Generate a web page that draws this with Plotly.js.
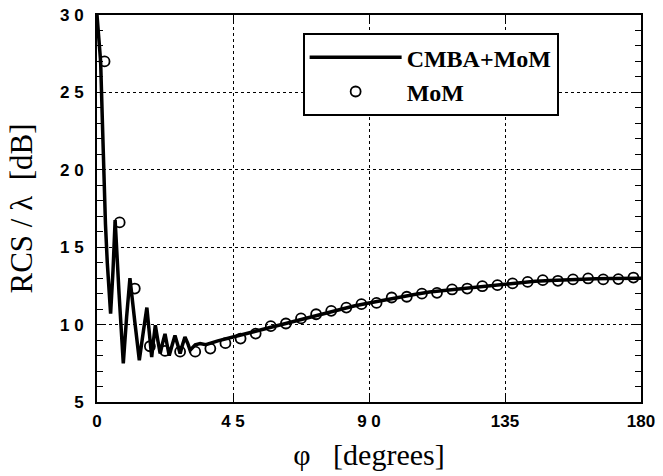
<!DOCTYPE html>
<html>
<head>
<meta charset="utf-8">
<script src="https://cdn.plot.ly/plotly-3.0.1.min.js"></script>
<style>html,body{margin:0;padding:0;background:#fff}#chart{width:663px;height:476px}</style>
</head>
<body>
<div id="chart"></div>
<script>
// CMBA+MoM curve (phi in degrees, RCS/lambda in dB)
var cmbaPhi = [0, 0.4, 1.2, 1.8, 2.3, 2.8, 3.4, 4.0, 4.5, 5.3, 6.0, 7.3, 8.7, 9.8, 10.9, 12.5, 14.0, 15.3, 16.5, 17.3, 18.1, 18.7, 19.3, 20.1, 20.9, 21.7, 22.5, 23.2, 23.9, 24.9, 25.8, 26.7, 27.5, 28.3, 29.1, 30.0, 30.8, 32.5, 34.1, 36, 40, 45, 50, 55, 60, 65, 70, 75, 80, 85, 90, 95, 100, 105, 110, 115, 120, 125, 130, 135, 140, 145, 150, 155, 160, 165, 170, 175, 180];
var cmbaDB = [30, 29, 27, 23, 19, 16.5, 14, 12, 10.7, 13.5, 16.75, 12, 7.5, 10.5, 13.0, 10.2, 7.7, 9.5, 11.1, 9.5, 7.9, 9.0, 9.96, 9.0, 8.13, 8.8, 9.4, 8.7, 8.0, 8.7, 9.3, 8.7, 8.13, 8.7, 9.2, 8.8, 8.35, 8.7, 8.78, 8.7, 8.95, 9.2, 9.45, 9.7, 9.95, 10.25, 10.5, 10.75, 11.0, 11.2, 11.4, 11.6, 11.8, 11.95, 12.1, 12.2, 12.3, 12.45, 12.55, 12.65, 12.72, 12.8, 12.85, 12.9, 12.93, 12.96, 12.98, 13.0, 13.0];

// MoM reference points
var momPhi = [2.5, 7.5, 12.5, 17.5, 22.5, 27.5, 32.5, 37.5, 42.5, 47.5, 52.5, 57.5, 62.5, 67.5, 72.5, 77.5, 82.5, 87.5, 92.5, 97.5, 102.5, 107.5, 112.5, 117.5, 122.5, 127.5, 132.5, 137.5, 142.5, 147.5, 152.5, 157.5, 162.5, 167.5, 172.5, 177.5];
var momDB = [27.0, 16.6, 12.33, 8.6, 8.3, 8.25, 8.25, 8.45, 8.8, 9.1, 9.42, 9.9, 10.07, 10.4, 10.67, 10.89, 11.1, 11.32, 11.4, 11.75, 11.8, 12.0, 12.05, 12.27, 12.33, 12.48, 12.55, 12.66, 12.76, 12.87, 12.83, 12.92, 12.98, 12.92, 12.94, 13.04];

var xTicks = [0, 45, 90, 135, 180];
var xTickText = ['0', '4 5', '9 0', '135', '180'];
var yTicks = [5, 10, 15, 20, 25, 30];
var yTickText = ['5', '1 0', '1 5', '2 0', '2 5', '3 0'];

var traces = [
  {x: cmbaPhi, y: cmbaDB, mode: 'lines', name: 'CMBA+MoM',
   line: {color: '#000', width: 3.5}},
  {x: momPhi, y: momDB, mode: 'markers', name: 'MoM',
   marker: {symbol: 'circle-open', size: 10, color: '#000', line: {width: 1.8, color: '#000'}}}
];

var tickFont = {family: 'Liberation Sans, Arial, sans-serif', size: 17, color: '#000', weight: 'bold'};
var serif = 'Liberation Serif, Times New Roman, serif';

var layout = {
  width: 663, height: 476,
  margin: {l: 97, r: 22, t: 15, b: 74},
  paper_bgcolor: '#fff', plot_bgcolor: '#fff',
  showlegend: true,
  legend: {
    x: 0.378, y: 0.953, xanchor: 'left', yanchor: 'top',
    bgcolor: '#fff', bordercolor: '#000', borderwidth: 2,
    font: {family: serif, size: 24, color: '#000', weight: 'bold'},
    itemwidth: 92, tracegroupgap: 0
  },
  xaxis: {
    range: [0, 180], tickvals: xTicks, ticktext: xTickText,
    ticks: 'inside', ticklen: 6, tickwidth: 1, tickcolor: '#000',
    showline: true, linecolor: '#000', linewidth: 2, mirror: 'ticks',
    showgrid: true, gridcolor: '#000', griddash: 'dot', gridwidth: 1,
    zeroline: false, tickfont: tickFont, ticklabelstandoff: 3,
    title: {text: 'φ   [degrees]', font: {family: serif, size: 30, color: '#000'}, standoff: 14}
  },
  yaxis: {
    range: [5, 30], tickvals: yTicks, ticktext: yTickText,
    ticks: 'inside', ticklen: 7, tickwidth: 1, tickcolor: '#000',
    showline: true, linecolor: '#000', linewidth: 2, mirror: 'ticks',
    showgrid: true, gridcolor: '#000', griddash: 'dot', gridwidth: 1,
    zeroline: false, tickfont: tickFont, ticklabelstandoff: 8,
    minor: {dtick: 1, ticks: 'inside', ticklen: 6, tickcolor: '#000', showgrid: false},
    title: {text: 'RCS / λ  [dB]', font: {family: serif, size: 31, color: '#000'}, standoff: 18}
  }
};

Plotly.newPlot('chart', traces, layout, {displayModeBar: false, staticPlot: true});
</script>
</body>
</html>
